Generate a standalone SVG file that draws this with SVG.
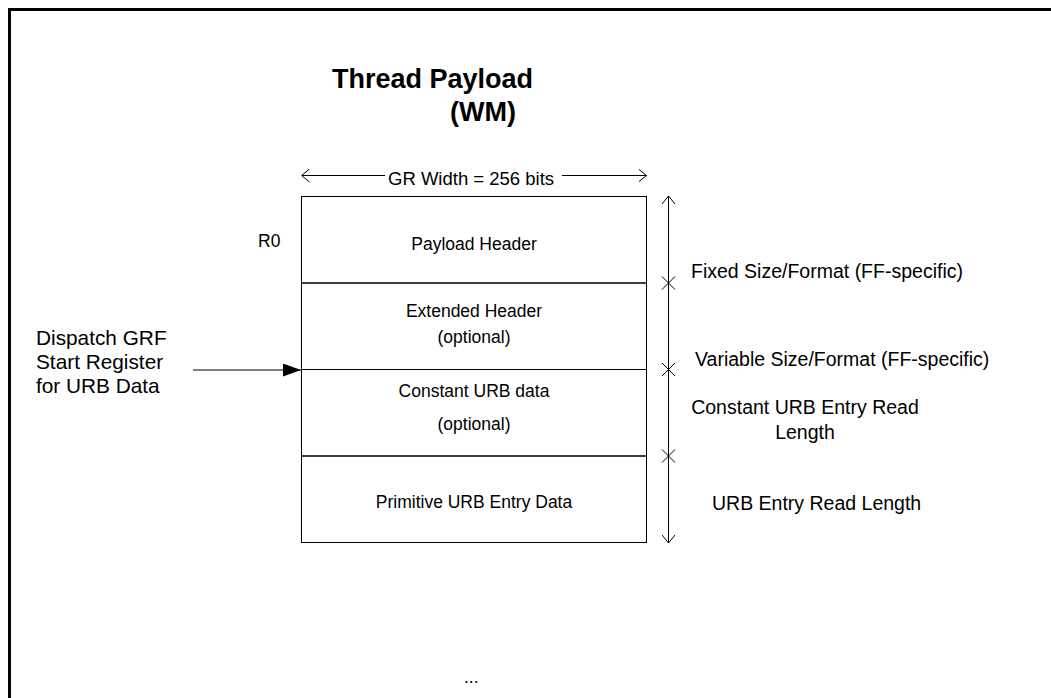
<svg xmlns="http://www.w3.org/2000/svg" width="1051" height="698" viewBox="0 0 1051 698">
<style>
text{font-family:"Liberation Sans",Arial,sans-serif;fill:#000}
.t{font-size:17.5px}
.r{font-size:19.5px}
.d{font-size:20.8px}
.c{text-anchor:middle}
.ttl{font-size:27px;font-weight:bold}
.ln{stroke:#000;stroke-width:1;fill:none}
</style>
<defs>
<marker id="open" viewBox="0 0 8 14" refX="8" refY="7" markerWidth="8" markerHeight="14" markerUnits="userSpaceOnUse" orient="auto">
<path d="M0,0.5 L8,7 L0,13.5" fill="none" stroke="#000" stroke-width="1"/>
</marker>
<marker id="fill" viewBox="0 0 18 13" refX="18" refY="6.5" markerWidth="18" markerHeight="13" markerUnits="userSpaceOnUse" orient="auto">
<path d="M0,0 L18,6.5 L0,13 Z" fill="#000"/>
</marker>
</defs>
<rect x="9.5" y="9.5" width="1100" height="800" fill="#fff" stroke="#000" stroke-width="3"/>
<g id="title">
<text class="ttl" x="332" y="88">Thread Payload</text>
<text class="ttl" x="450" y="121">(WM)</text>
</g>
<g id="width-label">
<text x="388" y="185" style="font-size:18.5px">GR Width = 256 bits</text>
</g>
<g id="r0"><text class="t" x="258" y="247">R0</text></g>
<g id="row-payload-header">
<rect x="301.5" y="196.5" width="345" height="86.5" fill="none" stroke="#000"/>
<text class="t c" x="474" y="250">Payload Header</text>
</g>
<g id="row-extended-header">
<rect x="301.5" y="283" width="345" height="86.5" fill="none" stroke="#000"/>
<text class="t c" x="474" y="317">Extended Header</text>
<text class="t c" x="474" y="343">(optional)</text>
</g>
<g id="row-constant-urb">
<rect x="301.5" y="369.5" width="345" height="86.5" fill="none" stroke="#000"/>
<text class="t c" x="474" y="397">Constant URB data</text>
<text class="t c" x="474" y="430">(optional)</text>
</g>
<g id="row-primitive-urb">
<rect x="301.5" y="456" width="345" height="86.5" fill="none" stroke="#000"/>
<text class="t c" x="474" y="508">Primitive URB Entry Data</text>
</g>
<g id="dispatch-label">
<text class="d" x="36" y="345">Dispatch GRF</text>
<text class="d" x="36" y="369">Start Register</text>
<text class="d" x="36" y="393">for URB Data</text>
</g>
<g id="right-labels">
<text class="r" x="691" y="278">Fixed Size/Format (FF-specific)</text>
<text class="r" x="695" y="366">Variable Size/Format (FF-specific)</text>
<text class="r c" x="805" y="414">Constant URB Entry Read</text>
<text class="r c" x="805" y="439">Length</text>
<text class="r" x="712" y="510">URB Entry Read Length</text>
</g>
<g id="ellipsis"><text class="t" x="464" y="683">...</text></g>
<g id="connectors">
<line class="ln" x1="385" y1="175.5" x2="301.5" y2="175.5" marker-end="url(#open)"/>
<line class="ln" x1="562" y1="175.5" x2="646.5" y2="175.5" marker-end="url(#open)"/>
<line class="ln" x1="668.5" y1="370" x2="668.5" y2="196" marker-end="url(#open)"/>
<line class="ln" x1="668.5" y1="370" x2="668.5" y2="543" marker-end="url(#open)"/>
<path class="ln" d="M662,276.5 L675,289.5 M675,276.5 L662,289.5"/>
<path class="ln" d="M662,363 L675,376 M675,363 L662,376"/>
<path class="ln" d="M662,449.5 L675,462.5 M675,449.5 L662,462.5"/>
<line class="ln" x1="193" y1="370" x2="301" y2="370" marker-end="url(#fill)"/>
</g>
</svg>
